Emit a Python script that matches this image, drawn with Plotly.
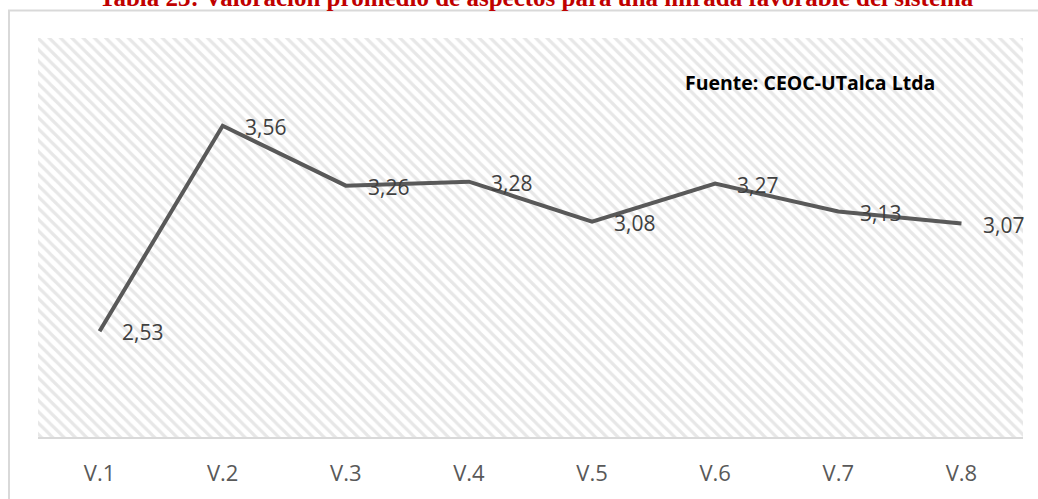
import plotly.graph_objects as go

categories = ["V.1", "V.2", "V.3", "V.4", "V.5", "V.6", "V.7", "V.8"]
values = [2.53, 3.56, 3.26, 3.28, 3.08, 3.27, 3.13, 3.07]
value_labels = ["2,53", "3,56", "3,26", "3,28", "3,08", "3,27", "3,13", "3,07"]
title_text = "Tabla 23: Valoración promedio de aspectos para una mirada favorable del sistema"
source_text = "Fuente: CEOC-UTalca Ltda"

W, H = 1038, 499
ML, MR, MT, MB = 38, 15, 38, 56
x_range = [-0.5, len(categories) - 0.5]
y_range = [2, 4]

idx = list(range(len(categories)))

fig = go.Figure()

# hatched plot-area background
fig.add_trace(go.Scatter(
    x=[x_range[0], x_range[1], x_range[1], x_range[0], x_range[0]],
    y=[y_range[0], y_range[0], y_range[1], y_range[1], y_range[0]],
    mode="none", fill="toself", fillcolor="white",
    fillpattern=dict(shape="\\", fgcolor="#d0d0d0", bgcolor="white", size=8, solidity=0.4),
    hoverinfo="skip", showlegend=False,
))

fig.add_trace(go.Scatter(
    x=idx, y=values, mode="lines",
    line=dict(color="#595959", width=4),
    showlegend=False,
))

pw = W - ML - MR
ph = H - MT - MB

def px_x(p):
    return (p - ML) / pw

def px_y(p):
    return (H - MB - p) / ph

for i, (v, lab) in enumerate(zip(values, value_labels)):
    fig.add_annotation(
        x=i, y=v, text=lab, showarrow=False,
        xanchor="left", yanchor="middle", xshift=20, yshift=-1,
        font=dict(family="Open Sans", size=21, color="#404040"),
    )

fig.add_annotation(
    xref="paper", yref="paper", x=px_x(683), y=px_y(83),
    text="<b>" + source_text + "</b>", showarrow=False,
    xanchor="left", yanchor="middle",
    font=dict(family="Open Sans", size=19.5, color="#000000"),
)

fig.add_annotation(
    xref="paper", yref="paper", x=px_x(536), y=px_y(7),
    text="<b>" + title_text + "</b>", showarrow=False,
    xanchor="center", yanchor="bottom", yshift=-6,
    font=dict(family="Liberation Serif", size=25, color="#C00000"),
)

# outer chart border (left and top visible)
fig.add_shape(
    type="rect", xref="paper", yref="paper",
    x0=px_x(9), x1=px_x(1060), y0=px_y(520), y1=px_y(10),
    line=dict(color="#d9d9d9", width=2), fillcolor="rgba(0,0,0,0)", layer="below",
)

fig.update_layout(
    width=W, height=H,
    margin=dict(l=ML, r=MR, t=MT, b=MB),
    paper_bgcolor="white", plot_bgcolor="white",
    xaxis=dict(
        range=x_range, tickmode="array", tickvals=idx, ticktext=categories,
        showgrid=False, zeroline=False, showline=True, linecolor="#d9d9d9", linewidth=2,
        ticks="", ticklabelstandoff=16,
        tickfont=dict(family="Open Sans", size=22, color="#595959"),
    ),
    yaxis=dict(range=y_range, showgrid=False, zeroline=False, showticklabels=False, showline=False),
)

fig.write_html(
    "out.html",
    config={"displayModeBar": False},
    post_script="document.body.style.margin='0';document.body.style.overflow='hidden';",
)
